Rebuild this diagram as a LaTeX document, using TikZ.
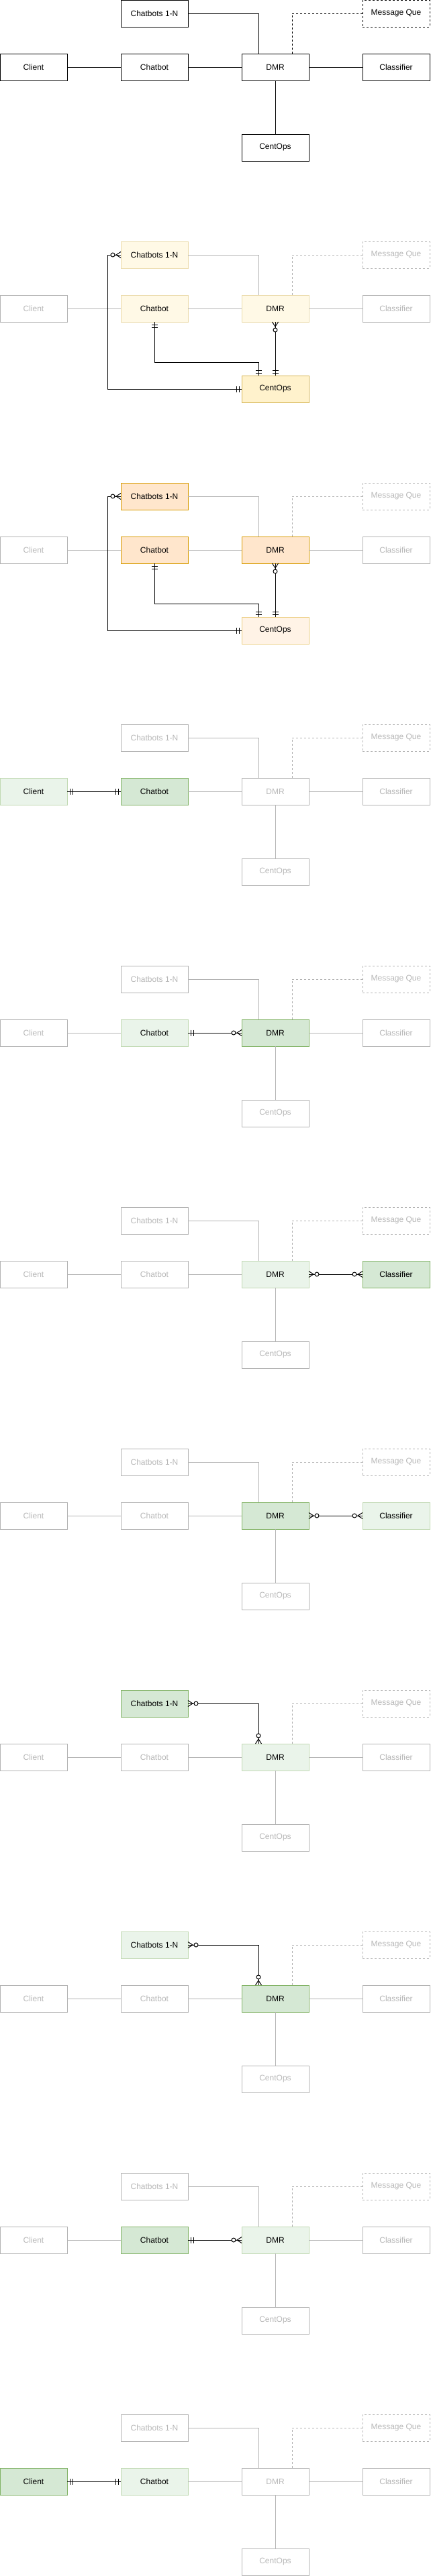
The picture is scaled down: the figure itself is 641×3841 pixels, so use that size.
\documentclass[tikz,border=0pt]{standalone}
\usepackage{fontspec}
\setmainfont{Liberation Sans}
\definecolor{fadeD}{HTML}{B3B3B3}
\definecolor{fadeT}{HTML}{B8B8B8}
\definecolor{yF}{HTML}{FFF2CC}\definecolor{yD}{HTML}{D6B656}
\definecolor{yhF}{HTML}{FFF9E6}\definecolor{yhD}{HTML}{EBDBAB}
\definecolor{oF}{HTML}{FFE6CC}\definecolor{oD}{HTML}{D79B00}
\definecolor{ohF}{HTML}{FFF3E6}\definecolor{ohD}{HTML}{EBCD80}
\definecolor{gF}{HTML}{D5E8D4}\definecolor{gD}{HTML}{82B366}
\definecolor{ghF}{HTML}{EAF4EA}\definecolor{ghD}{HTML}{C1D9B3}
\tikzset{
  box/.style={draw, minimum width=100pt, minimum height=40pt, inner sep=0pt, outer sep=0pt, line width=1pt, font=\fontsize{12}{14}\selectfont},
  plain/.style={box, draw=black, fill=white, text=black},
  faded/.style={box, draw=fadeD, fill=white, text=fadeT},
  yfull/.style={box, draw=yD, fill=yF, text=black},
  yhalf/.style={box, draw=yhD, fill=yhF, text=black},
  ofull/.style={box, draw=oD, fill=oF, text=black},
  ohalf/.style={box, draw=ohD, fill=ohF, text=black},
  gfull/.style={box, draw=gD, fill=gF, text=black},
  ghalf/.style={box, draw=ghD, fill=ghF, text=black},
  qdash/.style={dash pattern=on 3pt off 3pt},
  base/.style={draw=fadeD, line width=1pt},
  erline/.style={draw=black, line width=1pt},
  sCBN/.style={faded}, sMQ/.style={faded}, sCL/.style={faded}, sCB/.style={faded},
  sDMR/.style={faded}, sCLS/.style={faded}, sCO/.style={faded},
}
\newcommand\panelnodes[1]{%
  \node[sCBN] (#1cbn) at (230,20) {Chatbots 1-N};
  \node[sMQ, qdash] (#1mq) at (590,20) {Message Que};
  \node[sCL] (#1cl) at (50,100) {Client};
  \node[sCB] (#1cb) at (230,100) {Chatbot};
  \node[sDMR] (#1dmr) at (410,100) {DMR};
  \node[sCLS] (#1cls) at (590,100) {Classifier};
  \node[sCO] (#1co) at (410,220) {CentOps};
  \draw[base] (#1cl) -- (#1cb);
  \draw[base] (#1cb) -- (#1dmr);
  \draw[base] (#1dmr) -- (#1cls);
  \draw[base] (#1dmr) -- (#1co);
  \draw[base] (#1cbn.east) -| ([xshift=-25pt]#1dmr.north);
  \draw[base, qdash] (#1mq.west) -| ([xshift=25pt]#1dmr.north);
}
\newcommand\ermand[2]{\begin{scope}[shift={(#1)}, rotate=#2]
  \draw[erline] (4,-4.5) -- (4,4.5) (8,-4.5) -- (8,4.5);\end{scope}}
\newcommand\ermany[2]{\begin{scope}[shift={(#1)}, rotate=#2]
  \draw[erline] (0,4.5) -- (7,0) -- (0,-4.5);
  \draw[erline, fill=white] (12,0) circle[radius=3];\end{scope}}
\begin{document}
\begin{tikzpicture}[x=1pt, y=-1pt]
\useasboundingbox (0,0) rectangle (641,3841);
% panel 1
\begin{scope}[sCBN/.style={plain}, sMQ/.style={plain}, sCL/.style={plain}, sCB/.style={plain},
  sDMR/.style={plain}, sCLS/.style={plain}, sCO/.style={plain}, base/.style={draw=black, line width=1pt}]
  \panelnodes{a}
\end{scope}
% panel 2
\begin{scope}[yshift=-360pt, sCBN/.style={yhalf}, sCB/.style={yhalf}, sDMR/.style={yhalf}, sCO/.style={yfull}]
  \panelnodes{b}
\end{scope}
% panel 3
\begin{scope}[yshift=-720pt, sCBN/.style={ofull}, sCB/.style={ofull}, sDMR/.style={ofull}, sCO/.style={ohalf}]
  \panelnodes{c}
\end{scope}
% panel 4
\begin{scope}[yshift=-1080pt, sCL/.style={ghalf}, sCB/.style={gfull}]
  \panelnodes{d}
\end{scope}
% panel 5
\begin{scope}[yshift=-1440pt, sCB/.style={ghalf}, sDMR/.style={gfull}]
  \panelnodes{e}
\end{scope}
% panel 6
\begin{scope}[yshift=-1800pt, sDMR/.style={ghalf}, sCLS/.style={gfull}]
  \panelnodes{f}
\end{scope}
% panel 7
\begin{scope}[yshift=-2160pt, sDMR/.style={gfull}, sCLS/.style={ghalf}]
  \panelnodes{g}
\end{scope}
% panel 8
\begin{scope}[yshift=-2520pt, sCBN/.style={gfull}, sDMR/.style={ghalf}]
  \panelnodes{h}
\end{scope}
% panel 9
\begin{scope}[yshift=-2880pt, sCBN/.style={ghalf}, sDMR/.style={gfull}]
  \panelnodes{i}
\end{scope}
% panel 10
\begin{scope}[yshift=-3240pt, sCB/.style={gfull}, sDMR/.style={ghalf}]
  \panelnodes{j}
\end{scope}
% panel 11
\begin{scope}[yshift=-3600pt, sCL/.style={gfull}, sCB/.style={ghalf}]
  \panelnodes{k}
\end{scope}

% ER connectors, panels 2 and 3
\foreach \p in {b,c}{
  \coordinate (\p co1) at ([xshift=-25pt]\p co.north);
  \draw[erline] (\p cb.south) -- ++(0,60) -| (\p co1);
  \draw[erline] (\p dmr.south) -- (\p co.north);
  \draw[erline] (\p co.west) -- ++(-200,0) |- (\p cbn.west);
  \ermand{\p cb.south}{-90}
  \ermand{\p co1}{90}
  \ermany{\p dmr.south}{-90}
  \ermand{\p co.north}{90}
  \ermand{\p co.west}{180}
  \ermany{\p cbn.west}{180}
}
% Client -- Chatbot
\foreach \p in {d,k}{
  \draw[erline] (\p cl.east) -- (\p cb.west);
  \ermand{\p cl.east}{0}
  \ermand{\p cb.west}{180}
}
% Chatbot -- DMR
\foreach \p in {e,j}{
  \draw[erline] (\p cb.east) -- (\p dmr.west);
  \ermand{\p cb.east}{0}
  \ermany{\p dmr.west}{180}
}
% DMR -- Classifier
\foreach \p in {f,g}{
  \draw[erline] (\p dmr.east) -- (\p cls.west);
  \ermany{\p dmr.east}{0}
  \ermany{\p cls.west}{180}
}
% Chatbots 1-N -- DMR
\foreach \p in {h,i}{
  \coordinate (\p dmr1) at ([xshift=-25pt]\p dmr.north);
  \draw[erline] (\p cbn.east) -| (\p dmr1);
  \ermany{\p cbn.east}{0}
  \ermany{\p dmr1}{90}
}
\end{tikzpicture}
\end{document}
